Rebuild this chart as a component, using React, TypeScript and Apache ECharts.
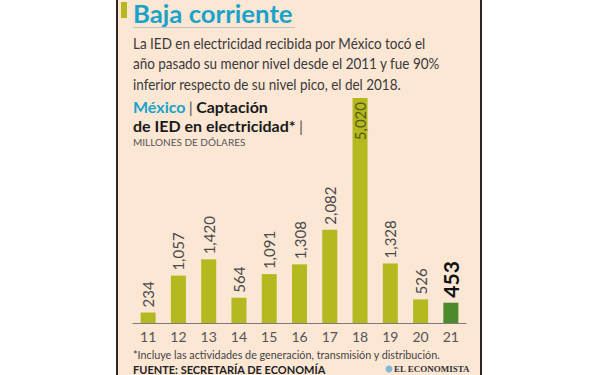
import React, { useEffect, useRef } from 'react';
import * as echarts from 'echarts';

const years = ['11', '12', '13', '14', '15', '16', '17', '18', '19', '20', '21'];
const values = [234, 1057, 1420, 564, 1091, 1308, 2082, 5020, 1328, 526, 453];
const titleText = 'Baja corriente';
const bodyLines = [
  'La IED en electricidad recibida por México tocó el',
  'año pasado su menor nivel desde el 2011 y fue 90%',
  'inferior respecto de su nivel pico, el del 2018.',
];
const footnote = '*Incluye las actividades de generación, transmisión y distribución.';
const sourceText = 'FUENTE: SECRETARÍA DE ECONOMÍA';
const logoText = 'EL ECONOMISTA';

const FONT = 'Lato, "Noto Sans", sans-serif';
const BAR = '#b3b91f';
const BAR_LAST = '#4c8a2c';
const TEAL = '#1aa3c8';

export default function App() {
  const ref = useRef<HTMLDivElement>(null);
  useEffect(() => {
    document.body.style.margin = '0';
    const chart = echarts.init(ref.current!, null, { renderer: 'svg' });
    const fmt = (v: number) => v.toLocaleString('en-US');
    const peak = Math.max(...values);
    const data = values.map((v, i) => {
      const last = i === values.length - 1;
      if (v === peak) {
        return {
          value: v,
          label: {
            position: 'insideTop',
            align: 'right',
            verticalAlign: 'middle',
            distance: 4,
            color: '#5a5a10',
          },
        };
      }
      if (last) {
        return {
          value: v,
          itemStyle: { color: BAR_LAST },
          label: { fontSize: 21, fontWeight: 'bold', color: '#111' },
        };
      }
      return v;
    });
    chart.setOption({
      animation: false,
      backgroundColor: '#ffffff',
      grid: { left: 133, right: 134, top: 98, bottom: 52 },
      xAxis: {
        type: 'category',
        data: years,
        axisLine: { lineStyle: { color: '#7a7a7a', width: 1 } },
        axisTick: { show: false },
        axisLabel: { color: '#555', fontSize: 14, fontFamily: FONT, margin: 6 },
      },
      yAxis: { type: 'value', min: 0, max: 5020, show: false, splitLine: { show: false } },
      series: [
        {
          type: 'bar',
          data,
          barWidth: 15,
          itemStyle: { color: BAR },
          z: 5,
          label: {
            show: true,
            position: 'top',
            rotate: 90,
            align: 'left',
            verticalAlign: 'middle',
            distance: 5,
            color: '#4a4a4a',
            fontSize: 15,
            fontFamily: FONT,
            formatter: (p: any) => fmt(p.value),
          },
        },
      ],
      graphic: {
        elements: [
          { type: 'rect', z: 0, shape: { x: 118, y: 0, width: 363, height: 375 }, style: { fill: '#fce6d4' } },
          { type: 'rect', z: 1, shape: { x: 116, y: 0, width: 2, height: 375 }, style: { fill: '#2b2620' } },
          { type: 'rect', z: 1, shape: { x: 480, y: 0, width: 2, height: 375 }, style: { fill: '#2b2620' } },
          { type: 'rect', z: 1, shape: { x: 121, y: 2, width: 6, height: 16 }, style: { fill: '#b3b91f' } },
          {
            type: 'text', z: 2, x: 133, y: 1, scaleX: 1.03, originX: 0,
            style: { text: titleText, fill: TEAL, font: `bold 25px ${FONT}`, verticalAlign: 'top' },
          },
          { type: 'line', z: 1, shape: { x1: 133, y1: 27.5, x2: 295, y2: 27.5 }, style: { stroke: '#b8c4c4', lineWidth: 1 } },
          ...bodyLines.map((t, i) => ({
            type: 'text', z: 2, x: 133, y: 43 + i * 20.5, scaleX: 0.9, originX: 0,
            style: { text: t, fill: '#3a3a3a', font: `15px ${FONT}`, verticalAlign: 'middle' },
          })),
          {
            type: 'text', z: 2, x: 133, y: 97,
            style: {
              text: '{t|México} {p||} {b|Captación}\n{b|de IED en electricidad*} {p||}',
              verticalAlign: 'top',
              lineHeight: 19,
              rich: {
                t: { fill: TEAL, font: `bold 16px ${FONT}`, lineHeight: 19 },
                b: { fill: '#1a1a1a', font: `bold 16px ${FONT}`, lineHeight: 19 },
                p: { fill: '#555', font: `16px ${FONT}`, lineHeight: 19 },
              },
            },
          },
          {
            type: 'text', z: 2, x: 133, y: 142,
            style: { text: 'MILLONES DE DÓLARES', fill: '#555', font: `10px ${FONT}`, verticalAlign: 'middle' },
          },
          {
            type: 'text', z: 2, x: 133, y: 354, scaleX: 0.98, originX: 0,
            style: { text: footnote, fill: '#444', font: `11px ${FONT}`, verticalAlign: 'middle' },
          },
          {
            type: 'text', z: 2, x: 133, y: 369,
            style: { text: sourceText, fill: '#222', font: `bold 11px ${FONT}`, verticalAlign: 'middle' },
          },
          { type: 'circle', z: 2, shape: { cx: 389, cy: 369, r: 3.5 }, style: { fill: '#7fb8d8' } },
          {
            type: 'text', z: 2, x: 394, y: 369,
            style: { text: logoText, fill: '#333', font: `bold 9px "Liberation Serif", serif`, verticalAlign: 'middle' },
          },
        ],
      },
    });
    return () => chart.dispose();
  }, []);
  return <div ref={ref} style={{ position: 'absolute', left: 0, top: 0, width: 600, height: 375 }} />;
}
